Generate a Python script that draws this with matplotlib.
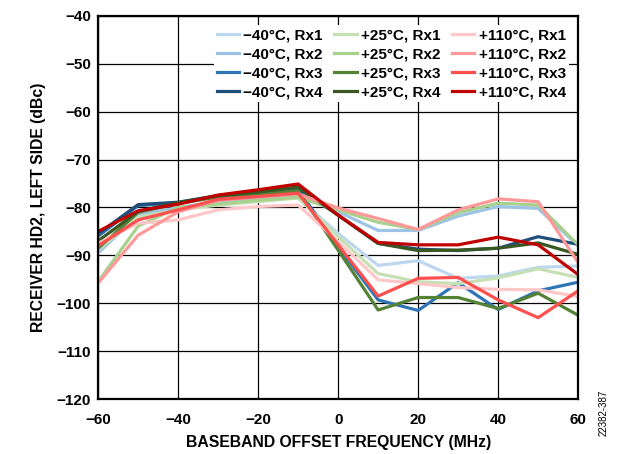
import numpy as np
import matplotlib
matplotlib.use('Agg')
import matplotlib.pyplot as plt

plt.rcParams['font.family'] = ['Liberation Sans', 'DejaVu Sans']
plt.rcParams['font.weight'] = 'bold'

freq = np.arange(-60, 61, 10)

labels = ['\u221240\u00b0C, Rx1', '\u221240\u00b0C, Rx2', '\u221240\u00b0C, Rx3', '\u221240\u00b0C, Rx4',
          '+25\u00b0C, Rx1', '+25\u00b0C, Rx2', '+25\u00b0C, Rx3', '+25\u00b0C, Rx4',
          '+110\u00b0C, Rx1', '+110\u00b0C, Rx2', '+110\u00b0C, Rx3', '+110\u00b0C, Rx4']

m40_rx1 = [-88.5, -82.0, -80.5, -79.0, -78.5, -78.0, -85.4, -92.1, -91.1, -94.8, -94.3, -92.5, -92.2]
m40_rx2 = [-89.5, -81.6, -80.0, -78.8, -78.0, -77.5, -80.9, -84.8, -84.8, -81.8, -79.8, -80.2, -88.0]
m40_rx3 = [-86.0, -79.6, -79.0, -77.6, -77.0, -76.2, -88.2, -99.3, -101.5, -95.7, -101.3, -97.4, -95.6]
m40_rx4 = [-85.5, -79.4, -78.9, -77.5, -76.8, -76.0, -81.6, -87.5, -88.7, -89.0, -88.5, -86.1, -87.7]
p25_rx1 = [-88.8, -82.0, -80.5, -79.5, -78.8, -78.0, -86.1, -93.8, -95.5, -95.9, -94.7, -92.8, -94.6]
p25_rx2 = [-95.5, -83.9, -80.0, -79.3, -78.5, -77.9, -80.5, -83.1, -84.6, -81.1, -79.1, -79.5, -87.8]
p25_rx3 = [-88.5, -81.0, -79.2, -77.8, -77.2, -76.5, -88.9, -101.4, -98.8, -98.8, -101.1, -97.9, -102.5]
p25_rx4 = [-87.0, -80.8, -79.0, -77.6, -76.8, -75.7, -81.6, -87.5, -89.0, -88.9, -88.5, -87.4, -89.8]
p110_rx1 = [-87.5, -83.3, -82.6, -80.5, -79.8, -79.5, -87.1, -95.1, -95.9, -96.7, -97.1, -97.2, -98.6]
p110_rx2 = [-95.8, -85.8, -80.9, -78.5, -77.8, -77.2, -80.1, -82.3, -84.6, -80.5, -78.2, -78.8, -91.5]
p110_rx3 = [-88.0, -82.6, -80.5, -78.3, -77.7, -77.0, -87.8, -98.5, -94.8, -94.6, -99.3, -103.0, -97.4]
p110_rx4 = [-85.0, -80.7, -79.3, -77.4, -76.3, -75.1, -81.6, -87.3, -87.8, -87.8, -86.2, -87.8, -94.0]

series = [m40_rx1, m40_rx2, m40_rx3, m40_rx4,
          p25_rx1, p25_rx2, p25_rx3, p25_rx4,
          p110_rx1, p110_rx2, p110_rx3, p110_rx4]
colors = ['#bdd7ee', '#9dc3e6', '#2e75b6', '#1f4e79',
          '#c5e0b4', '#a9d18e', '#548235', '#385723',
          '#ffc7c7', '#ff9999', '#ff5050', '#c00000']

fig = plt.figure(figsize=(6.21, 4.54), dpi=100)
ax = fig.add_axes([0.158, 0.121, 0.773, 0.844])

for vals, c, lab in zip(series, colors, labels):
    ax.plot(freq, vals, color=c, linewidth=2.3, label=lab)

ax.set_xlim(-60, 60)
ax.set_ylim(-120, -40)
ax.set_xticks(np.arange(-60, 61, 20))
ax.set_yticks(np.arange(-120, -39, 10))
ax.grid(True, color='black', linewidth=0.9)
ax.set_axisbelow(True)
ax.tick_params(axis='y', length=0, labelsize=11, pad=5)
ax.tick_params(axis='x', length=0, labelsize=11, pad=10)
for s in ax.spines.values():
    s.set_linewidth(1.6)
for t in ax.get_xticklabels() + ax.get_yticklabels():
    t.set_fontweight('bold')

ax.set_xlabel('BASEBAND OFFSET FREQUENCY (MHz)', fontsize=11.3, fontweight='bold', labelpad=6)
ax.set_ylabel('RECEIVER HD2, LEFT SIDE (dBc)', fontsize=11.3, fontweight='bold', labelpad=8)

leg = ax.legend(ncol=3, loc='upper right', fontsize=11, frameon=True, fancybox=False,
                edgecolor='none', facecolor='white', framealpha=1,
                handlelength=1.45, handletextpad=0.3, columnspacing=0.75,
                labelspacing=0.33, borderaxespad=0.6, borderpad=0.2)
for t in leg.get_texts():
    t.set_fontweight('bold')

fig.text(0.972, 0.09, '22382-387', rotation=90, fontsize=7, fontweight='normal',
         ha='center', va='center')

fig.savefig('out.png', dpi=100)
plt.close(fig)
